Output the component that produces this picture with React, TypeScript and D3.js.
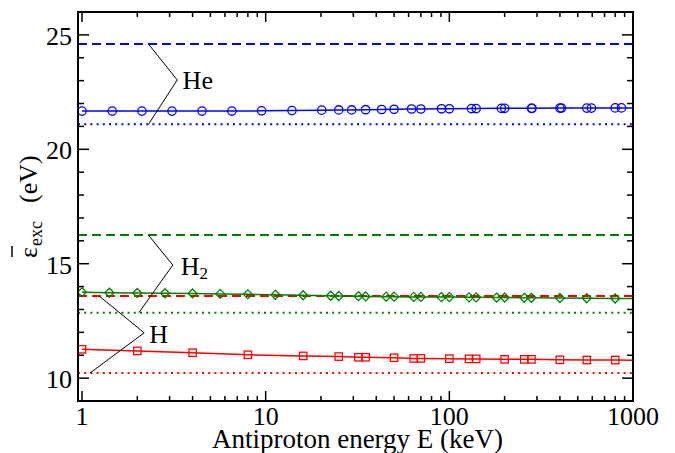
import React from "react";
import * as d3 from "d3";

// ---- data ----
const HE_E = [1, 1.46, 2.12, 3.09, 4.5, 6.55, 9.5, 13.9, 20.2, 25, 29.4, 35, 42.8, 50, 62.3, 70, 90.7, 100, 132, 140, 192, 200, 280, 282, 400, 408, 560, 594, 800, 865];
const HE_V = [21.67, 21.67, 21.67, 21.67, 21.67, 21.67, 21.68, 21.69, 21.71, 21.72, 21.72, 21.73, 21.74, 21.75, 21.76, 21.76, 21.77, 21.77, 21.78, 21.78, 21.79, 21.79, 21.79, 21.79, 21.8, 21.8, 21.8, 21.8, 21.81, 21.81];
const H2_E = [1, 1.41, 2, 2.83, 4, 5.66, 8, 11.3, 16, 22.6, 25, 32, 35, 45.3, 50, 64, 70, 90.5, 100, 128, 140, 181, 200, 256, 280, 400, 560, 800];
const H2_V = [13.75, 13.73, 13.72, 13.71, 13.7, 13.68, 13.66, 13.64, 13.62, 13.6, 13.59, 13.58, 13.57, 13.56, 13.56, 13.55, 13.55, 13.54, 13.54, 13.53, 13.53, 13.52, 13.52, 13.51, 13.51, 13.5, 13.49, 13.48];
const H_E = [1, 2, 4, 8, 16, 25, 32, 35, 50, 64, 70, 100, 128, 140, 200, 256, 280, 400, 560, 800];
const H_V = [11.26, 11.19, 11.11, 11.02, 10.97, 10.94, 10.91, 10.91, 10.89, 10.86, 10.86, 10.85, 10.84, 10.84, 10.82, 10.82, 10.82, 10.8, 10.79, 10.79];
// curve value at the right edge (E = 1000)
const CURVE_END = { He: 21.81, H2: 13.48, H: 10.78 };
// reference levels
const HE_DASHED = 24.6;
const HE_DOTTED = 21.09;
const H2_DASHED = 16.25;
const H2_DOTTED = 12.86;
const H_DASHED = 13.59;
const H_DOTTED = 10.22;

const X_TICKS = [1, 10, 100, 1000];
const Y_TICKS = [10, 15, 20, 25];

// annotation leader lines (data coords)
const HE_LEADER: [number, number][] = [[2.3, 24.6], [3.3, 23.03], [2.3, 21.09]];
const H2_LEADER: [number, number][] = [[2.3, 16.25], [3.12, 14.94], [2.04, 12.86]];
const H_LEADER: [number, number][] = [[1.24, 13.59], [2.18, 11.98], [1.105, 10.22]];

const W = 675, H = 453;
const L = 78, R = 633, T = 12, B = 401;
const FONT = "'Liberation Serif', 'Times New Roman', serif";

const BLUE = "#0000ff";
const GREEN = "#008000";
const RED = "#ff0000";

export default function App() {
  const x = d3.scaleLog().domain([0.951, 1000]).range([L, R]);
  const y = d3.scaleLinear().domain([9, 26]).range([B, T]);
  const line = d3.line<[number, number]>().x(d => x(d[0])).y(d => y(d[1]));

  const zip = (es: number[], vs: number[], end: number): [number, number][] =>
    [...es.map((e, i) => [e, vs[i]] as [number, number]), [1000, end]];

  const minorX: number[] = [];
  for (const dec of [1, 10, 100]) for (let k = 2; k <= 9; k++) minorX.push(dec * k);
  const minorY: number[] = d3.range(10, 26).filter(v => v % 5 !== 0);

  const hline = (v: number, color: string, dash: string, w: number) => (
    <line x1={L} x2={R} y1={y(v)} y2={y(v)} stroke={color} strokeWidth={w} strokeDasharray={dash} />
  );

  return (
    <svg width={W} height={H} style={{ position: "fixed", left: 0, top: 0, background: "#fff" }} fontFamily={FONT}>
      <rect x={0} y={0} width={W} height={H} fill="#fff" />
      {/* reference lines */}
      {hline(HE_DASHED, BLUE, "9,5", 2)}
      {hline(HE_DOTTED, BLUE, "2,4.2", 2)}
      {hline(H2_DASHED, GREEN, "9,5", 2)}
      {hline(H2_DOTTED, GREEN, "2,4.2", 2)}
      {hline(H_DASHED, RED, "9,5", 2)}
      {hline(H_DOTTED, RED, "2,4.2", 2)}

      {/* curves */}
      <path d={line(zip(HE_E, HE_V, CURVE_END.He))!} fill="none" stroke={BLUE} strokeWidth={1.5} />
      <path d={line(zip(H2_E, H2_V, CURVE_END.H2))!} fill="none" stroke={GREEN} strokeWidth={1.5} />
      <path d={line(zip(H_E, H_V, CURVE_END.H))!} fill="none" stroke={RED} strokeWidth={1.5} />

      {/* markers */}
      {HE_E.map((e, i) => (
        <circle key={"he" + i} cx={x(e)} cy={y(HE_V[i])} r={4.2} fill="none" stroke={BLUE} strokeWidth={1.3} />
      ))}
      {H2_E.map((e, i) => {
        const cx = x(e), cy = y(H2_V[i]), s = 4.5;
        return (
          <path key={"h2" + i} d={`M${cx},${cy - s}L${cx + s},${cy}L${cx},${cy + s}L${cx - s},${cy}Z`} fill="none" stroke={GREEN} strokeWidth={1.3} />
        );
      })}
      {H_E.map((e, i) => (
        <rect key={"h" + i} x={x(e) - 3.7} y={y(H_V[i]) - 3.7} width={7.4} height={7.4} fill="none" stroke={RED} strokeWidth={1.3} />
      ))}

      {/* annotations */}
      <path d={line(HE_LEADER)!} fill="none" stroke="#000" strokeWidth={1} />
      <path d={line(H2_LEADER)!} fill="none" stroke="#000" strokeWidth={1} />
      <path d={line(H_LEADER)!} fill="none" stroke="#000" strokeWidth={1} />
      <text x={x(3.53)} y={y(22.62)} fontSize={26}>He</text>
      <text x={x(3.45)} y={y(14.51)} fontSize={26}>H<tspan fontSize={17} dy={4}>2</tspan></text>
      <text x={x(2.32)} y={y(11.52)} fontSize={26}>H</text>

      {/* ticks */}
      {X_TICKS.map(t => (
        <g key={"xt" + t}>
          <line x1={x(t)} x2={x(t)} y1={B} y2={B - 10} stroke="#000" strokeWidth={1.5} />
          <line x1={x(t)} x2={x(t)} y1={T} y2={T + 10} stroke="#000" strokeWidth={1.5} />
          <text x={x(t)} y={B + 24} fontSize={26} textAnchor="middle">{t}</text>
        </g>
      ))}
      {minorX.map(t => (
        <g key={"xm" + t}>
          <line x1={x(t)} x2={x(t)} y1={B} y2={B - 5} stroke="#000" strokeWidth={1.5} />
          <line x1={x(t)} x2={x(t)} y1={T} y2={T + 5} stroke="#000" strokeWidth={1.5} />
        </g>
      ))}
      {Y_TICKS.map(t => (
        <g key={"yt" + t}>
          <line x1={L} x2={L + 11} y1={y(t)} y2={y(t)} stroke="#000" strokeWidth={1.5} />
          <line x1={R} x2={R - 11} y1={y(t)} y2={y(t)} stroke="#000" strokeWidth={1.5} />
          <text x={72} y={y(t) + 10} fontSize={26} textAnchor="end">{t}</text>
        </g>
      ))}
      {minorY.map(t => (
        <g key={"ym" + t}>
          <line x1={L} x2={L + 6} y1={y(t)} y2={y(t)} stroke="#000" strokeWidth={1.5} />
          <line x1={R} x2={R - 6} y1={y(t)} y2={y(t)} stroke="#000" strokeWidth={1.5} />
        </g>
      ))}

      {/* frame */}
      <rect x={L} y={T} width={R - L} height={B - T} fill="none" stroke="#000" strokeWidth={2} />

      {/* axis titles */}
      <text x={(L + R) / 2 + 2} y={448} fontSize={27} textAnchor="middle">Antiproton energy E (keV)</text>
      <g transform="translate(37,258) rotate(-90)">
        <text x={0} y={0} fontSize={26}>ε</text>
        <line x1={1} x2={12} y1={-25} y2={-25} stroke="#000" strokeWidth={1.5} />
        <text x={12} y={5} fontSize={18}>exc</text>
        <text x={55} y={0} fontSize={26}>(eV)</text>
      </g>
    </svg>
  );
}
